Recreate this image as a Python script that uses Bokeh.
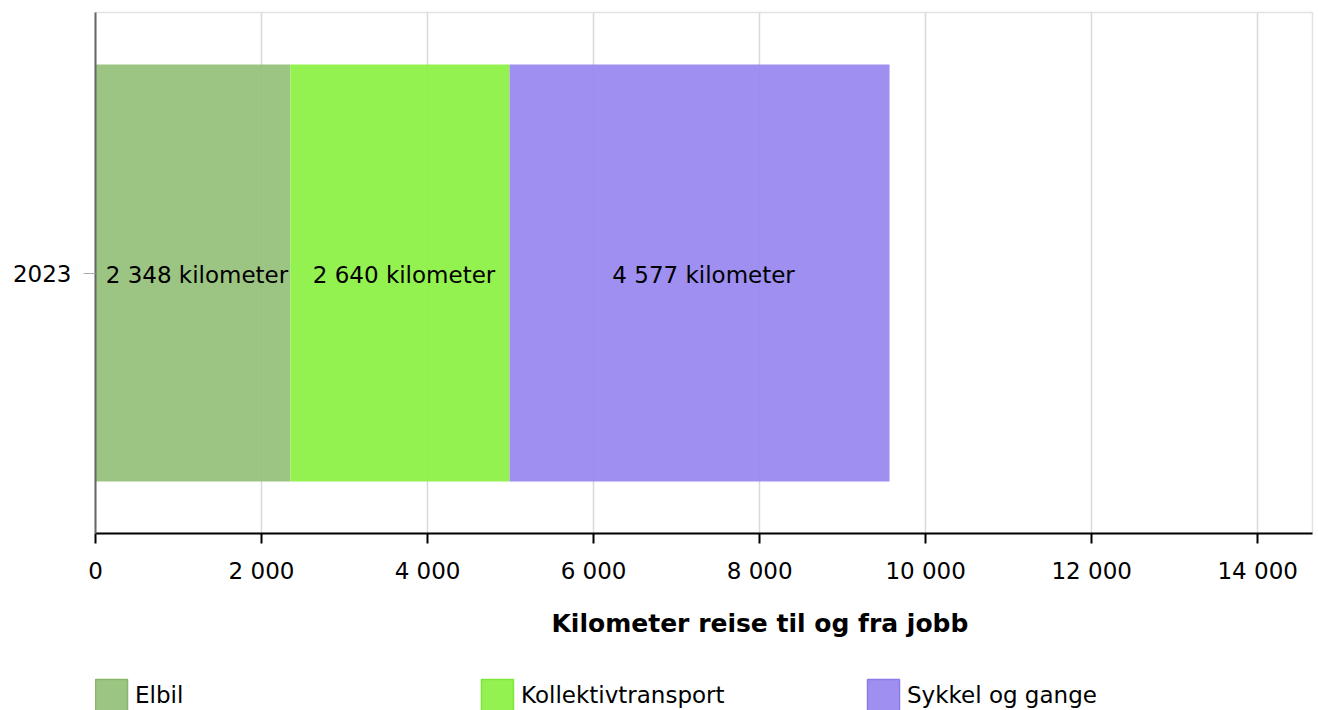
from bokeh.plotting import figure
from bokeh.layouts import column
from bokeh.models import Range1d, Legend, LegendItem, ColumnDataSource, FixedTicker, Title
from bokeh.core.properties import value
from bokeh.embed import file_html
from bokeh.resources import INLINE

years = ["2023"]
series = ["Elbil", "Kollektivtransport", "Sykkel og gange"]
values = [2348, 2640, 4577]
bar_labels = ["2 348 kilometer", "2 640 kilometer", "4 577 kilometer"]
colors = ["#94c078", "#8bf141", "#9686ef"]
edge_colors = ["#86b86a", "#7ee83a", "#8b7ce8"]
x_ticks = [0, 2000, 4000, 6000, 8000, 10000, 12000, 14000]
x_tick_labels = ["0", "2 000", "4 000", "6 000", "8 000", "10 000", "12 000", "14 000"]
x_max = 14660
x_title = "Kilometer reise til og fra jobb"

FONT = "DejaVu Sans"

lefts, rights = [], []
acc = 0
for v in values:
    lefts.append(acc)
    acc += v
    rights.append(acc)
mids = [(l + r) / 2 for l, r in zip(lefts, rights)]

src = ColumnDataSource(dict(
    y=[years[0]] * len(values), left=lefts, right=rights, color=colors,
    label=bar_labels, mid=mids,
))

p = figure(y_range=years, x_range=Range1d(0, x_max), width=1318, height=660,
           output_backend="svg", toolbar_location=None,
           min_border_left=95, min_border_right=6, min_border_top=12, min_border_bottom=127)

p.hbar(y="y", left="left", right="right", height=0.8, fill_color="color",
       fill_alpha=0.92, line_alpha=0, source=src)
p.text(x="mid", y="y", text="label", source=src, text_align="center",
       text_baseline="middle", text_font=value(FONT), text_font_size="23px",
       text_color="#000000", x_offset=4, y_offset=2)

# axis title below
p.add_layout(Title(text=x_title, align="left", offset=456, standoff=40, text_font=FONT,
                   text_font_style="bold", text_font_size="25px", text_color="#000000"),
             "below")

# axes
xa = p.xaxis[0]
xa.ticker = FixedTicker(ticks=x_ticks)
xa.major_label_overrides = {t: l for t, l in zip(x_ticks, x_tick_labels)}
xa.axis_line_color = "#000000"
xa.axis_line_width = 2
xa.major_tick_line_color = "#000000"
xa.major_tick_line_width = 2
xa.major_tick_out = 10
xa.major_tick_in = 0
xa.minor_tick_line_color = None
xa.major_label_standoff = 14
xa.major_label_text_font = FONT
xa.major_label_text_font_size = "23px"
xa.major_label_text_color = "#000000"

ya = p.yaxis[0]
ya.axis_line_color = "#666666"
ya.axis_line_width = 2
ya.major_tick_line_color = "#aaaaaa"
ya.major_tick_line_width = 1
ya.major_tick_out = 12
ya.major_tick_in = 0
ya.minor_tick_line_color = None
ya.major_label_standoff = 12
ya.major_label_text_font = FONT
ya.major_label_text_font_size = "23px"
ya.major_label_text_color = "#000000"

p.xgrid.grid_line_color = "#d9d9d9"
p.xgrid.grid_line_width = 1.5
p.ygrid.visible = False
p.outline_line_color = "#e3e3e3"
p.outline_line_width = 1.5

# legend figure (frame aligned with the main plot's frame)
p2 = figure(width=1318, height=50, x_range=Range1d(0, x_max), y_range=years,
            output_backend="svg", toolbar_location=None,
            min_border_left=0, min_border_right=0, min_border_top=0, min_border_bottom=0)
p2.xaxis.visible = False
p2.yaxis.visible = False
p2.grid.visible = False
p2.outline_line_color = None

items = []
for i, (s, c, e) in enumerate(zip(series, colors, edge_colors)):
    r = p2.hbar(y=[years[0]], left=[lefts[i]], right=[rights[i]], height=0.8,
                fill_color=c, fill_alpha=0.92, line_color=e, line_width=1.5)
    r.visible = False
    items.append(LegendItem(label=s, renderers=[r]))

legend = Legend(items=items, orientation="horizontal", location=(-4, -5),
                glyph_width=40, glyph_height=40, label_standoff=4, label_width=342,
                spacing=0, padding=0, margin=0, border_line_alpha=0,
                background_fill_alpha=0, inactive_fill_alpha=0, label_text_font=FONT,
                label_text_font_size="23px", label_text_color="#000000")
p2.add_layout(legend)

layout = column(p, p2, spacing=0)
open("out.html", "w").write(file_html(layout, INLINE))
